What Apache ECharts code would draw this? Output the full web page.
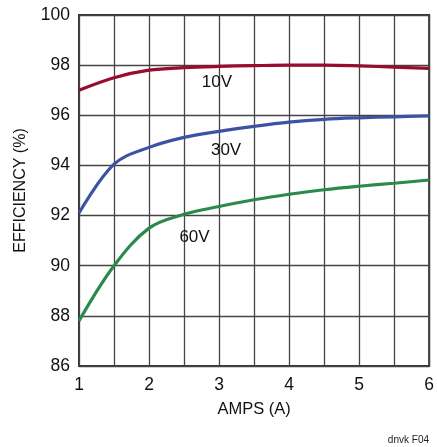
<!DOCTYPE html>
<html><head><meta charset="utf-8">
<script src="https://cdn.jsdelivr.net/npm/echarts@6/dist/echarts.min.js"></script>
<style>html,body{margin:0;padding:0;background:#fff}#c{width:437px;height:447px}</style>
</head><body><div id="c"></div>
<script>
const amps = [1, 1.5, 2, 2.5, 3, 3.5, 4, 4.5, 5, 5.5, 6];
const eff10V = [97.0, 97.5, 97.8, 97.9, 97.95, 97.98, 98.0, 98.0, 97.97, 97.92, 97.87];
const eff30V = [92.1, 94.05, 94.72, 95.12, 95.36, 95.56, 95.73, 95.84, 95.9, 95.94, 95.98];
const eff60V = [87.8, 90.0, 91.5, 92.05, 92.36, 92.63, 92.85, 93.03, 93.17, 93.29, 93.42];
const seriesNames = ['10V', '30V', '60V'];
const labelPos = [[2.97, 97.3], [3.1, 94.6], [2.65, 91.15]];
const FONT = "'Liberation Sans', Arial, sans-serif";
const colors = ['#9a0b30', '#3c53a4', '#2a8a4c'];
const allData = [eff10V, eff30V, eff60V];
const chart = echarts.init(document.getElementById('c'));
chart.setOption({
  animation: false,
  grid: {left: 79, right: 6, top: 15, bottom: 81, show: true, borderColor: '#333', borderWidth: 2, backgroundColor: 'transparent'},
  xAxis: {
    type: 'value', min: 1, max: 6, interval: 0.5,
    name: 'AMPS (A)', nameLocation: 'middle', nameGap: 35,
    nameTextStyle: {fontFamily: FONT, fontSize: 16.5, color: '#111'},
    axisLine: {show: false}, axisTick: {show: false},
    axisLabel: {fontFamily: FONT, fontSize: 17.5, color: '#111', margin: 10,
      formatter: v => Number.isInteger(v) ? String(v) : ''},
    splitLine: {show: true, lineStyle: {color: '#444', width: 1.3}}
  },
  yAxis: {
    type: 'value', min: 86, max: 100, interval: 2,
    name: 'EFFICIENCY (%)', nameLocation: 'middle', nameGap: 50,
    nameTextStyle: {fontFamily: FONT, fontSize: 16, color: '#111'},
    axisLine: {show: false}, axisTick: {show: false},
    axisLabel: {fontFamily: FONT, fontSize: 17.5, color: '#111', margin: 9},
    splitLine: {show: true, lineStyle: {color: '#444', width: 1.3}}
  },
  series: allData.map((d, i) => ({
    name: seriesNames[i], type: 'line', smooth: 0.35, showSymbol: false,
    data: amps.map((a, j) => [a, d[j]]),
    lineStyle: {color: colors[i], width: 3.2},
    markPoint: {symbol: 'circle', symbolSize: 0, silent: true,
      data: [{coord: labelPos[i], value: seriesNames[i]}],
      label: {show: true, position: 'inside', formatter: seriesNames[i], fontFamily: FONT, fontSize: 17, color: '#111'}}
  })),
  graphic: [{type: 'text', right: 8, bottom: 2, style: {text: 'dnvk F04', fontFamily: FONT, fontSize: 10, fill: '#222'}}]
});
</script></body></html>
